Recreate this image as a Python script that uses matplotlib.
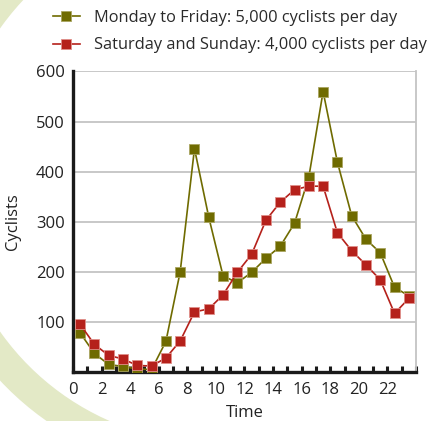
import matplotlib
matplotlib.use("Agg")
import matplotlib.pyplot as plt
from matplotlib.patches import Wedge
from matplotlib.ticker import MultipleLocator

hours = [h + 0.5 for h in range(24)]
weekday = [78, 37, 15, 11, 6, 5, 61, 200, 446, 309, 192, 178,
           199, 227, 251, 297, 389, 560, 419, 312, 265, 238, 169, 152]
weekend = [95, 55, 33, 26, 13, 12, 28, 62, 120, 126, 154, 199,
           235, 303, 339, 364, 371, 371, 278, 242, 214, 184, 117, 147]
labels = ["Monday to Friday: 5,000 cyclists per day",
          "Saturday and Sunday: 4,000 cyclists per day"]
xticks = list(range(0, 23, 2))
yticks = [100, 200, 300, 400, 500, 600]

olive = "#6f6b00"
red = "#b5211b"
W, H = 428, 421
plt.rcParams['font.family'] = ['Open Sans', 'DejaVu Sans']

fig = plt.figure(figsize=(W / 100, H / 100), dpi=100)
fig.patch.set_facecolor("white")

# background decoration ring (left part only)
bg = fig.add_axes([0, 0, 1, 1], zorder=-5)
bg.set_xlim(0, W)
bg.set_ylim(H, 0)
bg.axis("off")
bg.add_patch(Wedge((215, 180), 294, 108, 252, width=31, color="#e3e9c6", lw=0))

ax = fig.add_axes([73 / W, 1 - 372 / H, (416 - 73) / W, (372 - 71.5) / H])
ax.set_facecolor("none")

ax.plot(hours, weekday, color=olive, lw=1.2, marker="s", ms=7.2,
        mfc=olive, mec="#a9a560", mew=0.6, label=labels[0], zorder=3)
ax.plot(hours, weekend, color=red, lw=1.2, marker="s", ms=7.2,
        mfc=red, mec="#e08f8a", mew=0.6, label=labels[1], zorder=4)

ax.set_xlim(0, 24)
ax.set_ylim(0, 600)
ax.set_xticks(xticks)
ax.xaxis.set_minor_locator(MultipleLocator(1))
ax.set_yticks(yticks)
ax.grid(axis="y", color="#c4c4c4", lw=1.3)
ax.set_axisbelow(True)

ax.spines["top"].set_visible(False)
ax.spines["right"].set_color("#c4c4c4")
ax.spines["right"].set_linewidth(1.3)
ax.spines["left"].set_linewidth(2.4)
ax.spines["bottom"].set_linewidth(2.4)
ax.spines["left"].set_color("#1a1a1a")
ax.spines["bottom"].set_color("#1a1a1a")

ax.tick_params(axis="x", which="both", direction="in", length=4.5, width=2.2,
               color="#1a1a1a", labelsize=12, pad=7, labelcolor="#222222")
ax.tick_params(axis="y", length=0, labelsize=12, pad=6, labelcolor="#222222")

ax.set_xlabel("Time", fontsize=12, color="#222222", labelpad=5)
ax.set_ylabel("Cyclists", fontsize=12, color="#222222", labelpad=11)

leg = fig.legend(loc="upper left", bbox_to_anchor=(46 / W, 1 - 3 / H),
                 frameon=False, fontsize=11.8, handlelength=1.65,
                 handletextpad=0.9, labelspacing=0.72, borderaxespad=0)
for t in leg.get_texts():
    t.set_color("#2a2a2a")

fig.savefig("out.png", dpi=100)
